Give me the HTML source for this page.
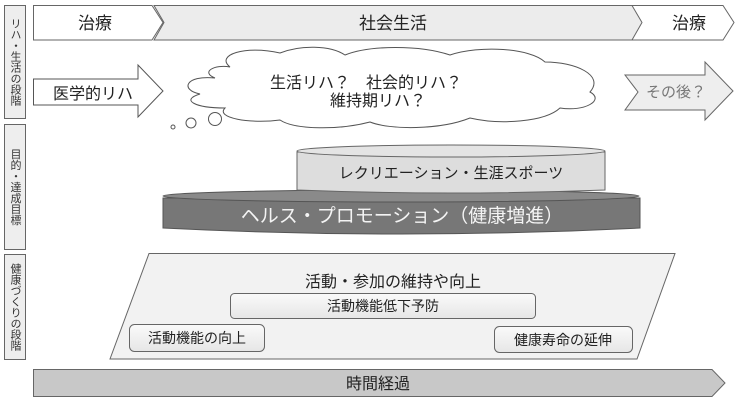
<!DOCTYPE html>
<html><head><meta charset="utf-8"><style>
body{margin:0;background:#fff;}
svg{display:block;font-family:"Liberation Sans","Noto Sans CJK JP",sans-serif;}
</style></head><body>
<svg width="740" height="403" viewBox="0 0 740 403">
<defs>
<linearGradient id="g1" x1="0" y1="0" x2="0" y2="1"><stop offset="0" stop-color="#fafafa"/><stop offset="1" stop-color="#e6e6e6"/></linearGradient>
</defs>
<!-- left labels -->
<g fill="#eeeeee" stroke="#666" stroke-width="1">
<rect x="4.5" y="5.5" width="21" height="113"/>
<rect x="4.5" y="124.5" width="21" height="125"/>
<rect x="4.5" y="254.5" width="21" height="105"/>
</g>
<g font-size="11" fill="#333" text-anchor="middle">
<text x="15" y="62" style="writing-mode:vertical-rl">リハ・生活の段階</text>
<text x="15" y="187" style="writing-mode:vertical-rl">目的・達成目標</text>
<text x="15" y="307" style="writing-mode:vertical-rl">健康づくりの段階</text>
</g>
<!-- top row -->
<polygon points="33.5,5.5 152,5.5 163,22.5 152,40 33.5,40" fill="#fff" stroke="#666"/>
<polygon points="154,5.5 641,5.5 651,22.5 641,40 154,40 164,22.5" fill="#ececec" stroke="#666"/>
<polygon points="632,5.5 723,5.5 734,22.5 723,40 632,40 642,22.5" fill="#fff" stroke="#666"/>
<g font-size="17" fill="#222" text-anchor="middle">
<text x="95" y="29">治療</text>
<text x="393" y="29">社会生活</text>
<text x="689" y="29">治療</text>
</g>
<!-- 医学的リハ arrow -->
<polygon points="33.5,79 138,79 138,65 163,91 138,117 138,105 33.5,105" fill="#fff" stroke="#555"/>
<text x="93" y="99" font-size="16" fill="#222" text-anchor="middle">医学的リハ</text>
<!-- cloud -->
<path d="M230,67 C215,55 245,45 280,53 C300,45 330,45 345,55 C370,45 420,45 450,55 C480,45 530,48 545,62 C575,62 605,75 590,92 C605,100 585,112 560,108 C545,122 500,125 470,118 C440,130 390,130 370,122 C340,130 295,130 280,120 C250,124 215,118 225,108 C195,108 180,100 200,94 C180,90 185,75 215,78 C200,72 215,64 230,67 Z" fill="#fff" stroke="#555" stroke-width="1"/>
<circle cx="173" cy="127" r="2" fill="#fff" stroke="#555"/>
<circle cx="191" cy="123" r="5" fill="#fff" stroke="#555"/>
<circle cx="215" cy="119" r="6.5" fill="#fff" stroke="#555"/>
<g font-size="16" fill="#222">
<text x="270" y="88">生活リハ？　社会的リハ？</text>
<text x="330" y="106">維持期リハ？</text>
</g>
<!-- その後 -->
<polygon points="625,75 705,75 705,62 733,91 705,120 705,110 625,110 638,92" fill="#eeeeee" stroke="#666"/>
<text x="676" y="97" font-size="15" fill="#777" text-anchor="middle">その後？</text>
<!-- big cylinder -->
<path d="M163,198 L163,228 Q400,240 640,228 L640,198 Z" fill="#777" stroke="#555"/>
<ellipse cx="401" cy="196" rx="238" ry="6" fill="#8a8a8a" stroke="#555"/>
<text x="402" y="222" font-size="19" fill="#f4f4f4" text-anchor="middle">ヘルス・プロモーション（健康増進）</text>
<!-- small cylinder -->
<path d="M297,152 L297,190 Q450,196 605,190 L605,152 Z" fill="#dddddd" stroke="#666"/>
<ellipse cx="451" cy="151" rx="154" ry="6" fill="#e4e4e4" stroke="#666"/>
<text x="451" y="178" font-size="15" fill="#222" text-anchor="middle">レクリエーション・生涯スポーツ</text>
<!-- trapezoid -->
<polygon points="149,253.5 675,253.5 637,359 110,359" fill="#f2f2f2" stroke="#666"/>
<text x="393" y="287" font-size="16" fill="#222" text-anchor="middle">活動・参加の維持や向上</text>
<rect x="230.5" y="293.5" width="305" height="25" rx="4" fill="url(#g1)" stroke="#666"/>
<text x="383" y="311" font-size="14" fill="#222" text-anchor="middle">活動機能低下予防</text>
<rect x="129.5" y="324.5" width="135" height="27" rx="5" fill="url(#g1)" stroke="#666"/>
<text x="197" y="343" font-size="14" fill="#222" text-anchor="middle">活動機能の向上</text>
<rect x="494.5" y="326.5" width="138" height="26" rx="5" fill="url(#g1)" stroke="#666"/>
<text x="563" y="345" font-size="14" fill="#222" text-anchor="middle">健康寿命の延伸</text>
<!-- time arrow -->
<polygon points="33.5,369.5 712,369.5 725,383 712,396.5 33.5,396.5" fill="#c8c8c8" stroke="#666"/>
<text x="378" y="389" font-size="16" fill="#222" text-anchor="middle">時間経過</text>
</svg>
</body></html>
